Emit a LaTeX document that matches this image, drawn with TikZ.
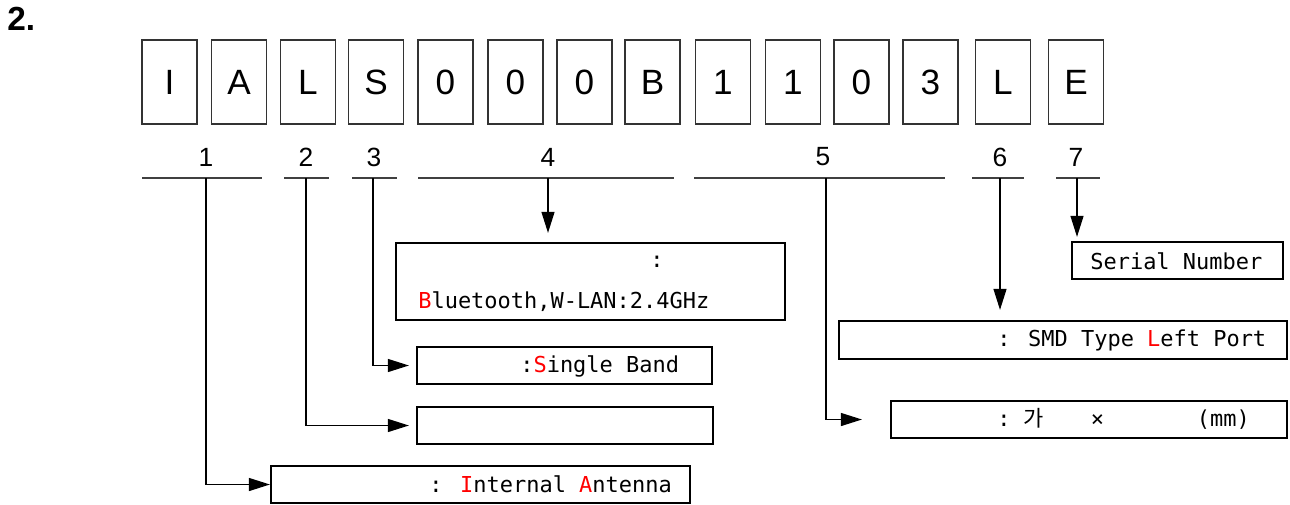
\documentclass[tikz,border=0pt]{standalone}
\usepackage{fontspec}
\setmainfont{Liberation Sans}
\newfontfamily\boxfont{DejaVu Sans Mono}
\newfontfamily\cjkfont{Noto Sans CJK KR}
\usetikzlibrary{arrows.meta}

\begin{document}
\begin{tikzpicture}[x=0.02cm, y=-0.02cm,
	letter/.style={draw=black!80, line width=0.8pt, minimum width=1.1cm, minimum height=1.68cm, inner sep=0pt, font=\fontsize{20}{20}\selectfont},
	num/.style={font=\fontsize{15}{15}\selectfont},
	infobox/.style={draw, line width=1.3pt, inner sep=0pt},
	txt/.style={font=\boxfont\fontsize{12.5}{14}\selectfont, inner sep=0pt, anchor=west},
	rule/.style={line width=0.7pt, black!75},
	link/.style={line width=0.7pt, -{Triangle[length=0.42cm, width=0.26cm]}}]
	\useasboundingbox (0,0) rectangle (1290,504);

	\node[font=\bfseries\fontsize{19}{19}\selectfont, anchor=north west, inner sep=0pt] (title) at (7,7) {2.};

	% code letters
	\foreach \ch/\cx [count=\i] in {I/169.5, A/239, L/308, S/376, 0/445.5, 0/515.5, 0/584.5, B/652.5, 1/723, 1/793, 0/861.5, 3/930.5, L/1003, E/1076}
		\node[letter] (l\i) at (\cx,82) {\ch};

	% group numbers and their rules
	\foreach \n/\cx in {1/206, 2/306, 3/374, 4/548, 5/823, 6/1000, 7/1076}
		\node[num] (n\n) at (\cx,157) {\n};
	\foreach \a/\b in {142/262, 284/329, 352/397, 418/674, 694/945, 972/1024, 1056/1100}
		\draw[rule] (\a,178) -- (\b,178);
	\coordinate (t1) at (206,178);
	\coordinate (t2) at (306,178);
	\coordinate (t3) at (373,178);
	\coordinate (t4) at (548,178);
	\coordinate (t5) at (826,178);
	\coordinate (t6) at (1000,178);
	\coordinate (t7) at (1077,178);

	% description boxes
	\node[infobox, minimum width=8.38cm, minimum height=0.74cm] (b1) at (480.5,484.5) {};
	\node[infobox, minimum width=5.92cm, minimum height=0.74cm] (b2) at (565,425.5) {};
	\node[infobox, minimum width=5.9cm, minimum height=0.74cm] (b3) at (564.5,365.5) {};
	\node[infobox, minimum width=7.78cm, minimum height=1.54cm] (b4) at (590.5,281.5) {};
	\node[infobox, minimum width=7.92cm, minimum height=0.74cm] (b5) at (1089,419.5) {};
	\node[infobox, minimum width=8.96cm, minimum height=0.76cm] (b6) at (1063,340) {};
	\node[infobox, minimum width=4.22cm, minimum height=0.74cm] (b7) at (1177.5,260.5) {};

	\node[txt, anchor=center] (s4a) at (657,262) {:};
	\node[txt] (s4b) at (418,302) {\textcolor{red}{B}luetooth,W-LAN:2.4GHz};
	\node[txt] (s3) at (520,366) {:\textcolor{red}{S}ingle Band};
	\node[txt] (s1) at (429,484) {: \textcolor{red}{I}nternal \textcolor{red}{A}ntenna};
	\node[txt] (s6) at (997,340) {: SMD Type \textcolor{red}{L}eft Port};
	\node[txt] (s7) at (1090,261) {Serial Number};
	\node[txt] (s5) at (997,419) {:~{\cjkfont 가}\hspace{26.6pt}×\hspace{52.9pt}(mm)};

	% connectors
	\draw[link] (t1) |- (b1.west);
	\draw[link, shorten >=0.14cm] (t2) |- (b2.west);
	\draw[link, shorten >=0.14cm] (t3) |- (b3.west);
	\draw[link, shorten >=0.18cm] (t4) -- (t4 |- b4.north);
	\draw[link, shorten >=0.56cm] (t5) |- (b5.west);
	\draw[link, shorten >=0.2cm] (t6) -- (t6 |- b6.north);
	\draw[link, shorten >=0.08cm] (t7) -- (t7 |- b7.north);
\end{tikzpicture}
\end{document}
